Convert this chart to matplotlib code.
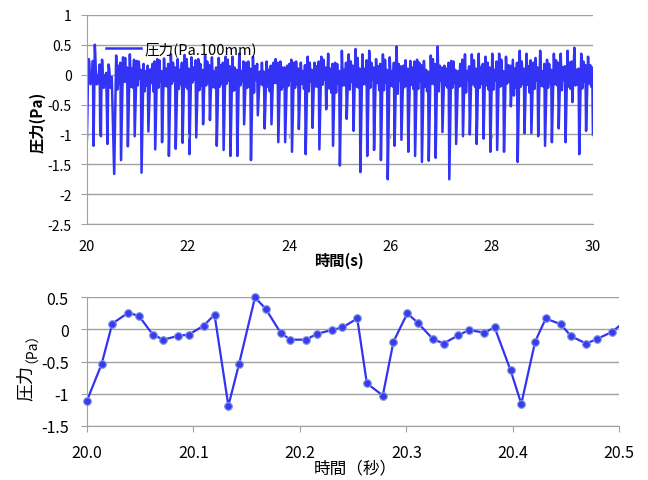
import matplotlib
matplotlib.use("Agg")
import matplotlib.pyplot as plt
import numpy as np

plt.rcParams['font.family'] = ['Noto Sans CJK JP', 'DejaVu Sans']
plt.rcParams['axes.unicode_minus'] = False

# bottom chart: first 0.5 s of the record, read point by point
bottom_t = [20.000, 20.014, 20.024, 20.039, 20.049, 20.062, 20.072, 20.086, 20.096, 20.110,
            20.120, 20.133, 20.143, 20.158, 20.168, 20.182, 20.191, 20.206, 20.216, 20.230,
            20.240, 20.254, 20.263, 20.278, 20.288, 20.301, 20.311, 20.325, 20.335, 20.349,
            20.359, 20.373, 20.383, 20.398, 20.408, 20.421, 20.431, 20.445, 20.455, 20.469,
            20.479, 20.493, 20.505]
bottom_p = [-1.12, -0.54, 0.09, 0.26, 0.21, -0.08, -0.16, -0.10, -0.08, 0.06,
            0.23, -1.19, -0.54, 0.50, 0.32, -0.05, -0.16, -0.16, -0.07, -0.01,
            0.03, 0.17, -0.84, -1.03, -0.19, 0.25, 0.10, -0.15, -0.22, -0.09,
            -0.01, -0.05, 0.03, -0.64, -1.16, -0.19, 0.17, 0.08, -0.11, -0.22,
            -0.15, -0.04, 0.12]

# top chart: 20-30 s, one entry per pulse (75 pulses)
top_dip = [-1.17, -1.22, -1.08, -1.20, -1.66, -1.43, -1.20, -1.03, -1.64, -0.95,
           -1.25, -1.13, -1.36, -1.24, -1.14, -1.33, -1.05, -0.83, -0.76,
           -1.19, -1.26, -1.36, -1.36, -0.83, -1.43, -0.68, -0.90, -0.83, -1.13,
           -1.13, -1.29, -0.91, -1.33, -0.89, -1.25, -0.58, -1.19, -1.52,
           -0.74, -0.94, -1.63, -1.36, -1.26, -1.43, -1.75, -1.19, -1.09, -1.29,
           -1.36, -1.46, -1.44, -1.39, -0.96, -1.75, -1.16, -1.03, -1.00,
           -1.16, -1.07, -1.29, -1.26, -1.29, -0.53, -1.46, -0.98, -0.98, -1.03,
           -1.19, -1.13, -0.90, -1.13, -0.46, -1.33, -0.94, -1.00]
top_peak = [0.23, 0.50, 0.26, 0.15, 0.32, 0.29, 0.34, 0.23, 0.18, 0.09,
            0.26, 0.27, 0.34, 0.26, 0.33, 0.29, 0.26, 0.32, 0.29,
            0.28, 0.30, 0.30, 0.35, 0.20, 0.30, 0.05, 0.22, 0.20, 0.22,
            0.15, 0.20, 0.20, 0.30, 0.20, 0.30, 0.35, 0.20, 0.40,
            0.34, 0.43, 0.34, 0.40, 0.26, 0.34, 0.29, 0.47, 0.15, 0.23,
            0.25, 0.23, 0.32, 0.47, 0.15, 0.23, 0.06, 0.34, 0.34,
            0.35, 0.30, 0.35, 0.35, 0.30, 0.25, 0.40, 0.35, 0.20, 0.40,
            0.25, 0.35, 0.35, 0.40, 0.45, 0.35, 0.30, 0.20]
top_low = [-0.16, -0.17, -0.22, -0.15, -0.25, -0.12, -0.20, -0.18, -0.28, -0.14,
           -0.22, -0.19, -0.15, -0.24, -0.20, -0.13, -0.26, -0.18, -0.21,
           -0.20, -0.15, -0.27, -0.18, -0.22, -0.30, -0.16, -0.20, -0.14, -0.25,
           -0.19, -0.22, -0.15, -0.28, -0.20, -0.17, -0.23, -0.30, -0.18,
           -0.25, -0.20, -0.16, -0.22, -0.14, -0.26, -0.19, -0.32, -0.21, -0.17,
           -0.24, -0.20, -0.15, -0.28, -0.18, -0.22, -0.20, -0.30, -0.16,
           -0.22, -0.18, -0.25, -0.20, -0.15, -0.35, -0.20, -0.17, -0.24, -0.19,
           -0.22, -0.16, -0.26, -0.20, -0.18, -0.23, -0.15, -0.20]
top_bump = [0.12, 0.25, 0.05, 0.20, 0.15, 0.28, 0.10, 0.22, 0.06, 0.18,
            0.24, 0.10, 0.20, 0.08, 0.26, 0.12, 0.18, 0.22, 0.05,
            0.16, 0.25, 0.12, 0.06, 0.22, 0.14, 0.20, 0.08, 0.26, 0.12,
            0.18, 0.22, 0.06, 0.20, 0.14, 0.25, 0.10, 0.18, 0.08,
            0.22, 0.28, 0.10, 0.20, 0.14, 0.25, 0.06, 0.18, 0.24, 0.12,
            0.20, 0.08, 0.26, 0.15, 0.10, 0.22, 0.18, 0.06, 0.24,
            0.12, 0.20, 0.08, 0.25, 0.16, 0.10, 0.22, 0.14, 0.28, 0.06,
            0.18, 0.24, 0.12, 0.20, 0.08, 0.22, 0.16, 0.10]
top_sag = [-0.10, -0.20, -0.08, -0.25, -0.15, -0.12, -0.22, -0.06, -0.18, -0.28,
           -0.12, -0.20, -0.10, -0.16, -0.24, -0.08, -0.18, -0.14, -0.22,
           -0.15, -0.10, -0.25, -0.12, -0.20, -0.08, -0.18, -0.28, -0.14, -0.20,
           -0.10, -0.16, -0.24, -0.12, -0.20, -0.08, -0.30, -0.15, -0.18,
           -0.12, -0.22, -0.16, -0.08, -0.26, -0.14, -0.20, -0.10, -0.18, -0.24,
           -0.12, -0.28, -0.16, -0.10, -0.22, -0.14, -0.18, -0.08, -0.20,
           -0.15, -0.25, -0.10, -0.18, -0.12, -0.22, -0.16, -0.30, -0.10, -0.20,
           -0.14, -0.18, -0.08, -0.24, -0.16, -0.12, -0.20, -0.15]
top_pre = [0.23, 0.10, 0.18, 0.05, 0.20, 0.12, 0.25, 0.08, 0.15, 0.22,
           0.06, 0.18, 0.12, 0.20, 0.10, 0.24, 0.08, 0.16, 0.12,
           0.20, 0.14, 0.08, 0.22, 0.10, 0.18, 0.05, 0.15, 0.20, 0.12,
           0.25, 0.10, 0.16, 0.08, 0.22, 0.12, 0.18, 0.06, 0.20,
           0.15, 0.10, 0.24, 0.12, 0.18, 0.08, 0.20, 0.14, 0.10, 0.22,
           0.16, 0.05, 0.18, 0.12, 0.20, 0.08, 0.25, 0.14, 0.10,
           0.18, 0.12, 0.22, 0.06, 0.15, 0.20, 0.10, 0.24, 0.12, 0.18,
           0.08, 0.20, 0.14, 0.22, 0.10, 0.16, 0.12, 0.18]

top_yticks = [1, 0.5, 0, -0.5, -1, -1.5, -2, -2.5]
top_ylabels = ["1", "0.5", "0", "-0.5", "-1", "-1.5", "-2", "-2.5"]
top_xticks = [20, 22, 24, 26, 28, 30]
bot_yticks = [0.5, 0, -0.5, -1, -1.5]
bot_ylabels = ["0.5", "0", "-0.5", "-1", "-1.5"]
bot_xticks = [20.0, 20.1, 20.2, 20.3, 20.4, 20.5]

line_c = '#3333F5'
grid_c = '#A0A0A0'

# build the top trace: measured points for the first 0.5 s, then pulse by pulse
period = 10.0 / (len(top_dip) - 1)
tt = [t for t in bottom_t if t < 20.5]
tp = bottom_p[:len(tt)]
frac = [0, 0.29, 0.45, 0.6, 0.75, 0.9]
for k in range(4, len(top_dip)):
    t0 = 20 + k * period
    if k == len(top_dip) - 1:
        tt.append(t0)
        tp.append(top_dip[k])
        break
    tt += [t0 + f * period for f in frac]
    tp += [top_dip[k], top_peak[k], top_low[k], top_bump[k], top_sag[k], top_pre[k]]

fig = plt.figure(figsize=(6.48, 4.81), dpi=100)

# ---- top chart
ax1 = fig.add_axes([0.134, 0.532, 0.781, 0.435])
ax1.plot(tt, tp, color=line_c, lw=1.8, label='圧力(Pa.100mm)')
ax1.set_xlim(20, 30)
ax1.set_ylim(-2.5, 1)
ax1.set_yticks(top_yticks)
ax1.set_yticklabels(top_ylabels)
ax1.set_xticks(top_xticks)
ax1.yaxis.grid(True, color=grid_c, lw=1)
ax1.set_axisbelow(True)
for s in ['top', 'right']:
    ax1.spines[s].set_visible(False)
ax1.spines['left'].set_color(grid_c)
ax1.spines['bottom'].set_color(grid_c)
ax1.tick_params(axis='y', length=4, color=grid_c, pad=7, labelsize=10)
ax1.tick_params(axis='x', length=0, pad=11, labelsize=10.5)
# horizontal axis crosses at -1 in the original, with its tick marks there
ax1.vlines(top_xticks, -1.06, -1, color=grid_c, lw=1)
ax1.legend(frameon=False, loc='center left', bbox_to_anchor=(0.038, 0.836),
           handlelength=2.4, handletextpad=0.2, borderpad=0, borderaxespad=0,
           fontsize=10.5)
fig.text(0.523, 0.458, '時間(s)', ha='center', va='center', fontsize=11, fontweight='bold')
fig.text(0.058, 0.746, '圧力(Pa)', ha='center', va='center', rotation=90,
         fontsize=11, fontweight='bold')

# ---- bottom chart
ax2 = fig.add_axes([0.1338, 0.1129, 0.8219, 0.2669])
ax2.plot(bottom_t, bottom_p, color=line_c, lw=1.6)
bt = np.array(bottom_t)
bp = np.array(bottom_p)
inside = bt <= 20.5
ax2.plot(bt[inside], bp[inside], ls='none', marker='o', ms=5.5, mfc='#3A3AF2',
         mec='#7C9AD6', mew=0.8, clip_on=False, zorder=3)
ax2.set_xlim(20.0, 20.5)
ax2.set_ylim(-1.5, 0.5)
ax2.set_yticks(bot_yticks)
ax2.set_yticklabels(bot_ylabels)
ax2.set_xticks(bot_xticks)
ax2.set_xticklabels([f'{x:.1f}' for x in bot_xticks])
ax2.yaxis.grid(True, color=grid_c, lw=1)
ax2.set_axisbelow(True)
for s in ['top', 'right']:
    ax2.spines[s].set_visible(False)
ax2.spines['left'].set_color(grid_c)
ax2.spines['bottom'].set_color(grid_c)
ax2.tick_params(axis='both', length=4, color=grid_c, labelsize=11.5)
ax2.tick_params(axis='y', pad=9)
ax2.tick_params(axis='x', pad=9)
fig.text(0.549, 0.025, '時間（秒）', ha='center', va='center', fontsize=12)
fig.text(0.039, 0.203, '圧力', ha='center', va='center', rotation=90, fontsize=13)
fig.text(0.039, 0.292, '（Pa）', ha='center', va='center', rotation=90, fontsize=10)

fig.savefig('out.png', dpi=100)
